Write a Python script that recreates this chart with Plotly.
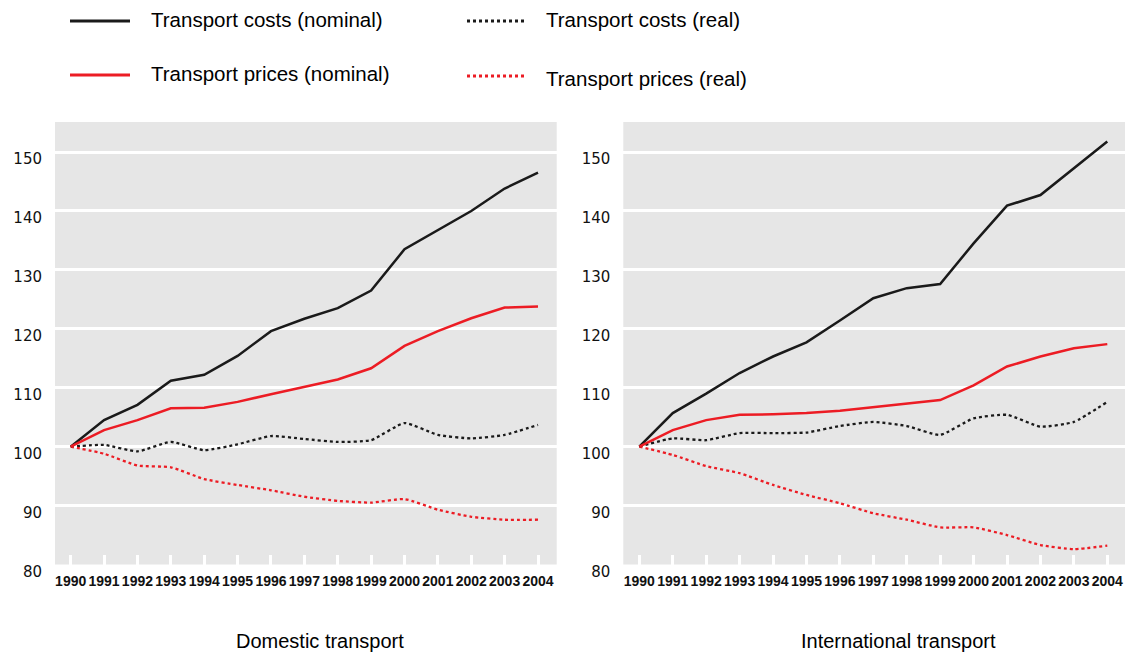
import plotly.graph_objects as go

W, H = 1125, 653
# the page renders the figure 16px shorter than requested, so ask for H + 16
LAYOUT_H = H + 16

years = list(range(1990, 2005))
year_labels = [str(y) for y in years]
y_ticks = [80, 90, 100, 110, 120, 130, 140, 150]

dom_cost_nom = [100, 104.5, 107.1, 111.2, 112.2, 115.4, 119.6, 121.7, 123.5, 126.5, 133.5, 136.7, 140.0, 143.8, 146.5]
dom_price_nom = [100, 102.8, 104.5, 106.5, 106.6, 107.6, 108.9, 110.1, 111.4, 113.3, 117.1, 119.6, 121.8, 123.6, 123.8]
dom_cost_real = [100, 100.3, 99.2, 100.8, 99.4, 100.4, 101.8, 101.3, 100.8, 101.1, 104.0, 102.0, 101.4, 102.0, 103.7]
dom_price_real = [100, 98.8, 96.8, 96.5, 94.5, 93.5, 92.6, 91.5, 90.8, 90.5, 91.1, 89.3, 88.1, 87.6, 87.6]

int_cost_nom = [100, 105.7, 109.0, 112.5, 115.3, 117.7, 121.4, 125.2, 126.9, 127.6, 134.5, 140.9, 142.7, 147.3, 151.8]
int_price_nom = [100, 102.8, 104.5, 105.4, 105.5, 105.7, 106.1, 106.7, 107.2, 107.9, 110.4, 113.6, 115.3, 116.7, 117.4]
int_cost_real = [100, 101.4, 101.1, 102.3, 102.3, 102.4, 103.5, 104.2, 103.5, 102.0, 104.8, 105.4, 103.4, 104.2, 107.6]
int_price_real = [100, 98.6, 96.7, 95.5, 93.5, 91.8, 90.4, 88.7, 87.6, 86.3, 86.3, 85.0, 83.3, 82.6, 83.2]

series_names = ["Transport costs (nominal)", "Transport prices (nominal)",
                "Transport costs (real)", "Transport prices (real)"]
panel_titles = ["Domestic transport", "International transport"]

BLACK = "#1a1a1a"
RED = "#ec1c24"
BG = "#e6e6e6"


def px(x):
    return x / W


def py(y):
    return 1 - y / H


fig = go.Figure()


def add_panel(xa, ya, cn, pn, cr, pr):
    specs = [
        (cr, BLACK, "dot", 2.3, series_names[2]),
        (pr, RED, "dot", 2.3, series_names[3]),
        (cn, BLACK, "solid", 2.5, series_names[0]),
        (pn, RED, "solid", 2.5, series_names[1]),
    ]
    for vals, col, dash, w, name in specs:
        fig.add_trace(go.Scatter(
            x=years, y=vals, mode="lines", name=name, showlegend=False,
            line=dict(color=col, dash=dash, width=w,
                      shape="spline" if dash == "dot" else "linear",
                      smoothing=0.5),
            xaxis=xa, yaxis=ya, hoverinfo="skip"))


add_panel("x", "y", dom_cost_nom, dom_price_nom, dom_cost_real, dom_price_real)
add_panel("x2", "y2", int_cost_nom, int_price_nom, int_cost_real, int_price_real)

ydom = [py(564.5), py(122)]
xdom1 = [px(55), px(556.7)]
xdom2 = [px(623.3), 1.0]

xaxis_common = dict(
    tickvals=years, ticktext=year_labels, tickangle=0,
    ticks="inside", ticklen=10, tickwidth=3, tickcolor="white",
    showgrid=False, zeroline=False, showline=False,
    tickfont=dict(family="Liberation Sans, Arial, sans-serif",
                  size=14, color="#111", weight="bold"),
    ticklabelstandoff=6, fixedrange=True,
)
yaxis_common = dict(
    range=[80, 155.1], tickvals=y_ticks, ticktext=[str(v) for v in y_ticks],
    showgrid=True, gridcolor="white", gridwidth=3, zeroline=False,
    showline=False, ticks="",
    tickfont=dict(family="DejaVu Sans, sans-serif", size=15, color="#111"),
    ticklabelshift=7, ticklabelstandoff=12, fixedrange=True,
)

fig.update_layout(
    width=W, height=LAYOUT_H,
    margin=dict(l=0, r=0, t=0, b=0),
    paper_bgcolor="white", plot_bgcolor=BG,
    xaxis=dict(domain=xdom1, anchor="y", range=[1989.53, 2004.56], **xaxis_common),
    yaxis=dict(domain=ydom, anchor="x", **yaxis_common),
    xaxis2=dict(domain=xdom2, anchor="y2", range=[1989.52, 2004.53], **xaxis_common),
    yaxis2=dict(domain=ydom, anchor="x2", **yaxis_common),
    showlegend=False,
)

# manual legend
legend_items = [
    (series_names[0], BLACK, "solid", 70, 130, 21, 149, 19),
    (series_names[2], BLACK, "dot", 467, 525, 21, 544, 19),
    (series_names[1], RED, "solid", 70, 130, 75, 149, 73),
    (series_names[3], RED, "dot", 467, 525, 76, 544, 78),
]
for name, col, dash, x0, x1, yl, xt, yt in legend_items:
    fig.add_shape(type="line", xref="paper", yref="paper",
                  x0=px(x0), x1=px(x1), y0=py(yl), y1=py(yl),
                  line=dict(color=col, width=3, dash=dash))
    fig.add_annotation(text=name, xref="paper", yref="paper",
                       x=px(xt), y=py(yt), xanchor="left", yanchor="middle",
                       showarrow=False,
                       font=dict(family="Liberation Sans, Arial, sans-serif", size=20.5, color="#000"))

for title, xc in zip(panel_titles, [320, 898.5]):
    fig.add_annotation(text=title, xref="paper", yref="paper",
                       x=px(xc), y=py(641), xanchor="center", yanchor="middle",
                       showarrow=False,
                       font=dict(family="Liberation Sans, Arial, sans-serif", size=20, color="#000"))

post = (
    "document.documentElement.style.margin='0';"
    "document.documentElement.style.padding='0';"
    "document.documentElement.style.overflow='hidden';"
    "document.body.style.margin='0';"
    "document.body.style.padding='0';"
    "document.body.style.overflow='hidden';"
)

fig.write_html("out.html", post_script=post,
               config={"responsive": False, "displayModeBar": False})
